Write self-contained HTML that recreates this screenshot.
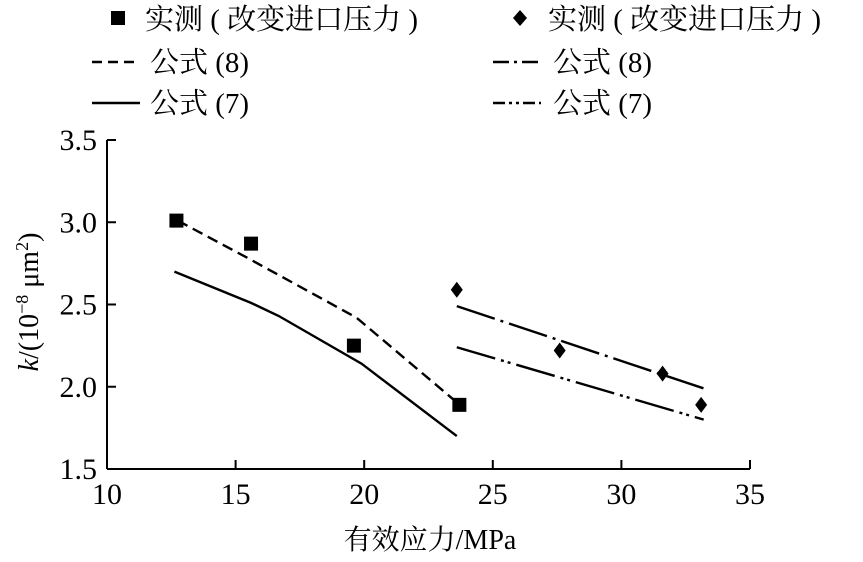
<!DOCTYPE html>
<html><head><meta charset="utf-8"><style>
body{margin:0;background:#fff;}
svg text{font-family:"Liberation Serif","Noto Serif CJK SC","Noto Sans CJK SC",serif;fill:#000;}
</style></head><body>
<svg id="chart" width="863" height="557" viewBox="0 0 863 557" xmlns="http://www.w3.org/2000/svg">
<g id="legend" font-size="29">
 <g>
  <rect x="111" y="11" width="14" height="14" fill="#000"/>
  <text x="145" y="29">实测 ( 改变进口压力 )</text></g>
 <g>
  <path d="M520 10 L527 18 L520 26 L513 18 Z" fill="#000"/>
  <text x="548" y="29">实测 ( 改变进口压力 )</text></g>
 <g>
  <line x1="92" y1="62" x2="140" y2="62" stroke="#000" stroke-width="2.4" stroke-dasharray="10,6"/>
  <text x="150" y="72">公式 (8)</text></g>
 <g>
  <line x1="493" y1="62" x2="541" y2="62" stroke="#000" stroke-width="2.4" stroke-dasharray="16,5,3,5"/>
  <text x="553" y="72">公式 (8)</text></g>
 <g>
  <line x1="92" y1="103" x2="140" y2="103" stroke="#000" stroke-width="2.4"/>
  <text x="150" y="113">公式 (7)</text></g>
 <g>
  <line x1="493" y1="103" x2="541" y2="103" stroke="#000" stroke-width="2.4" stroke-dasharray="12,4,3,4,3,4"/>
  <text x="553" y="113">公式 (7)</text></g>
</g>
<g id="axes"></g>
<g id="marks"></g>
<text font-size="28" transform="translate(38,302) rotate(-90)" text-anchor="middle"><tspan font-style="italic">k</tspan>/(10<tspan font-size="18" dy="-10">−8</tspan><tspan dy="10"> μm</tspan><tspan font-size="18" dy="-10">2</tspan><tspan dy="10">)</tspan></text>
<text font-size="28" x="430" y="549" text-anchor="middle">有效应力/MPa</text>
</svg>
<script>
const xTicks=[10,15,20,25,30,35];
const yTicks=[1.5,2.0,2.5,3.0,3.5];
const sqX=[12.7,15.6,19.6,23.7];
const sqY=[3.01,2.87,2.25,1.89];
const dmX=[23.6,27.6,31.6,33.1];
const dmY=[2.59,2.22,2.08,1.89];
const f8aX=[12.75,15.5,19.7,23.64];
const f8aY=[3.01,2.78,2.42,1.90];
const f7aX=[12.62,15.6,16.68,19.9,23.6];
const f7aY=[2.70,2.51,2.43,2.14,1.70];
const f8bX=[23.6,33.2];
const f8bY=[2.49,1.99];
const f7bX=[23.6,33.2];
const f7bY=[2.24,1.80];
const NS="http://www.w3.org/2000/svg";
const X0=107,X1=750,Y0=469,Y1=140;
const sx=v=>X0+(v-10)/25*(X1-X0);
const sy=v=>Y0-(v-1.5)/2*(Y0-Y1);
function mk(p,tag,attrs){const e=document.createElementNS(NS,tag);for(const k in attrs)e.setAttribute(k,attrs[k]);p.appendChild(e);return e;}
const ax=document.getElementById('axes'),mg=document.getElementById('marks');
let l=mk(ax,'line',{x1:X0,y1:Y1,x2:X0,y2:Y0,stroke:'#000','stroke-width':2});


l=mk(ax,'line',{x1:X0,y1:Y0,x2:X1,y2:Y0,stroke:'#000','stroke-width':2});


xTicks.forEach(v=>{
 if(v>10){const t=mk(ax,'line',{x1:sx(v),y1:Y0,x2:sx(v),y2:Y0-9,stroke:'#000','stroke-width':2});
 
 }
 const tx=mk(ax,'text',{x:sx(v),y:Y0+35,'text-anchor':'middle','font-size':30});tx.textContent=v;
 
 
});
yTicks.forEach(v=>{
 const t=mk(ax,'line',{x1:X0,y1:sy(v),x2:X0+9,y2:sy(v),stroke:'#000','stroke-width':2});
 
 
 const tx=mk(ax,'text',{x:X0-10,y:sy(v)+10,'text-anchor':'end','font-size':30});tx.textContent=v.toFixed(1);
 
 
});
function line(xs,ys,dash,name){
 const p=mk(mg,'polyline',{points:xs.map((x,i)=>sx(x)+','+sy(ys[i])).join(' '),fill:'none',stroke:'#000','stroke-width':2.4,'stroke-dasharray':dash});
 
 
}
line(f8aX,f8aY,'11,6','formula8-dashed-line');
line(f7aX,f7aY,'none','formula7-solid-line');
line(f8bX,f8bY,'40,6,3,6','formula8-dashdot-line');
line(f7bX,f7bY,'40,6,3,4,3,6','formula7-dashdotdot-line');
sqX.forEach((x,i)=>{
 const r=mk(mg,'rect',{x:sx(x)-7,y:sy(sqY[i])-7,width:14,height:14,fill:'#000'});
 
 
});
dmX.forEach((x,i)=>{
 const cx=sx(x),cy=sy(dmY[i]);
 const d=mk(mg,'path',{d:`M${cx} ${cy-8} L${cx+6} ${cy} L${cx} ${cy+8} L${cx-6} ${cy} Z`,fill:'#000'});
 
 
});
</script>
</body></html>
